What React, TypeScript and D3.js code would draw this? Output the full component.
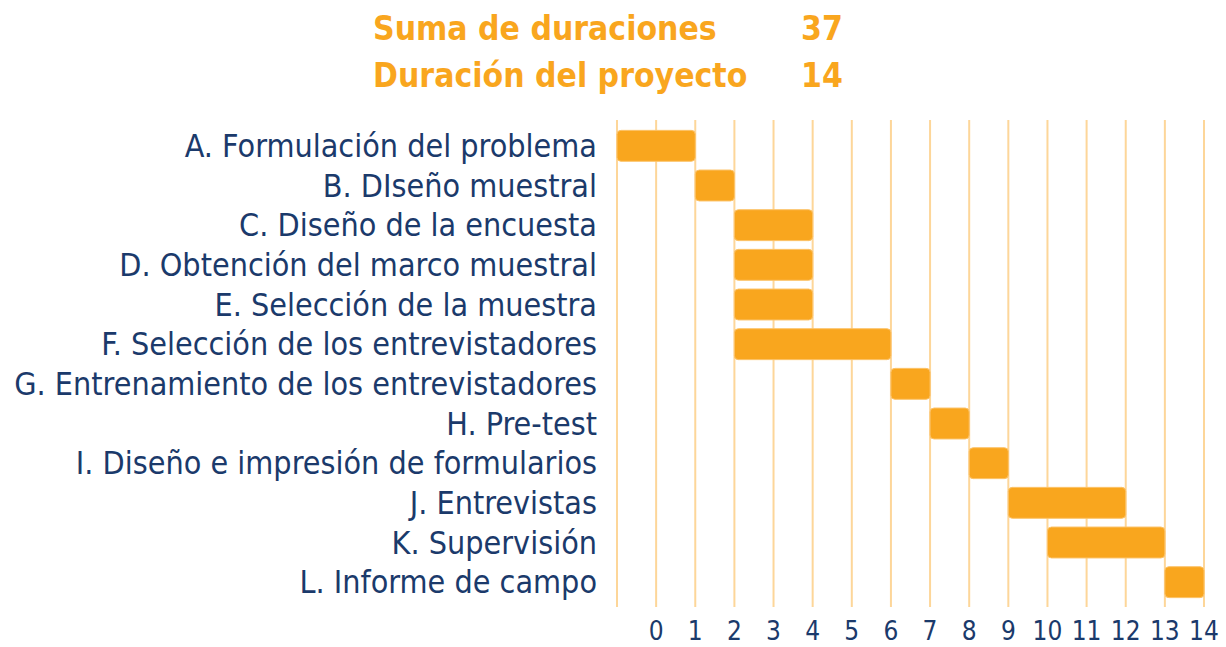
import React from "react";
import * as d3 from "d3";

const tasks = [
  "A. Formulación del problema",
  "B. DIseño muestral",
  "C. Diseño de la encuesta",
  "D. Obtención del marco muestral",
  "E. Selección de la muestra",
  "F. Selección de los entrevistadores",
  "G. Entrenamiento de los entrevistadores",
  "H. Pre-test",
  "I. Diseño e impresión de formularios",
  "J. Entrevistas",
  "K. Supervisión",
  "L. Informe de campo",
];
const starts = [-1, 1, 2, 2, 2, 2, 6, 7, 8, 9, 10, 13];
const ends = [1, 2, 4, 4, 4, 6, 7, 8, 9, 12, 13, 14];
const tickValues = [0, 1, 2, 3, 4, 5, 6, 7, 8, 9, 10, 11, 12, 13, 14];
const summaryLabels = ["Suma de duraciones", "Duración del proyecto"];
const summaryValues = ["37", "14"];

const ORANGE = "#F9A61E";
const GRID = "#FDD699";
const NAVY = "#1B3A6B";
const FONT = "'DejaVu Sans Condensed', 'Liberation Sans Narrow', sans-serif";

export default function App() {
  const W = 1226, H = 647;
  const x = d3.scaleLinear().domain([-1, 14]).range([617, 1204]);
  const y = d3.scaleBand<string>().domain(tasks).range([126, 602]).paddingInner(0.22).paddingOuter(0.11);
  const gridVals = d3.range(-1, 15);
  return (
    <svg width={W} height={H} style={{ position: "absolute", left: 0, top: 0 }}>
      {summaryLabels.map((s, i) => (
        <g key={s} fontFamily={FONT} fontWeight="bold" fontSize={33.4} fill={ORANGE}>
          <text x={373} y={40 + i * 47}>{s}</text>
          <text x={801} y={40 + i * 47}>{summaryValues[i]}</text>
        </g>
      ))}
      {gridVals.map((v) => (
        <line key={v} x1={x(v)} x2={x(v)} y1={120} y2={607} stroke={GRID} strokeWidth={2} />
      ))}
      {tasks.map((t, i) => (
        <g key={t}>
          <rect
            x={x(starts[i])}
            y={y(t)!}
            width={x(ends[i]) - x(starts[i])}
            height={y.bandwidth()}
            rx={4}
            fill={ORANGE}
            stroke="#FCC36A"
            strokeWidth={1}
          />
          <text
            x={597}
            y={y(t)! + y.bandwidth() / 2}
            dy="0.35em"
            textAnchor="end"
            fontFamily={FONT}
            fontSize={32}
            fill={NAVY}
          >
            {t}
          </text>
        </g>
      ))}
      {tickValues.map((v) => (
        <text key={v} x={x(v)} y={640} textAnchor="middle" fontFamily={FONT} fontSize={26} fill={NAVY}>
          {v}
        </text>
      ))}
    </svg>
  );
}
